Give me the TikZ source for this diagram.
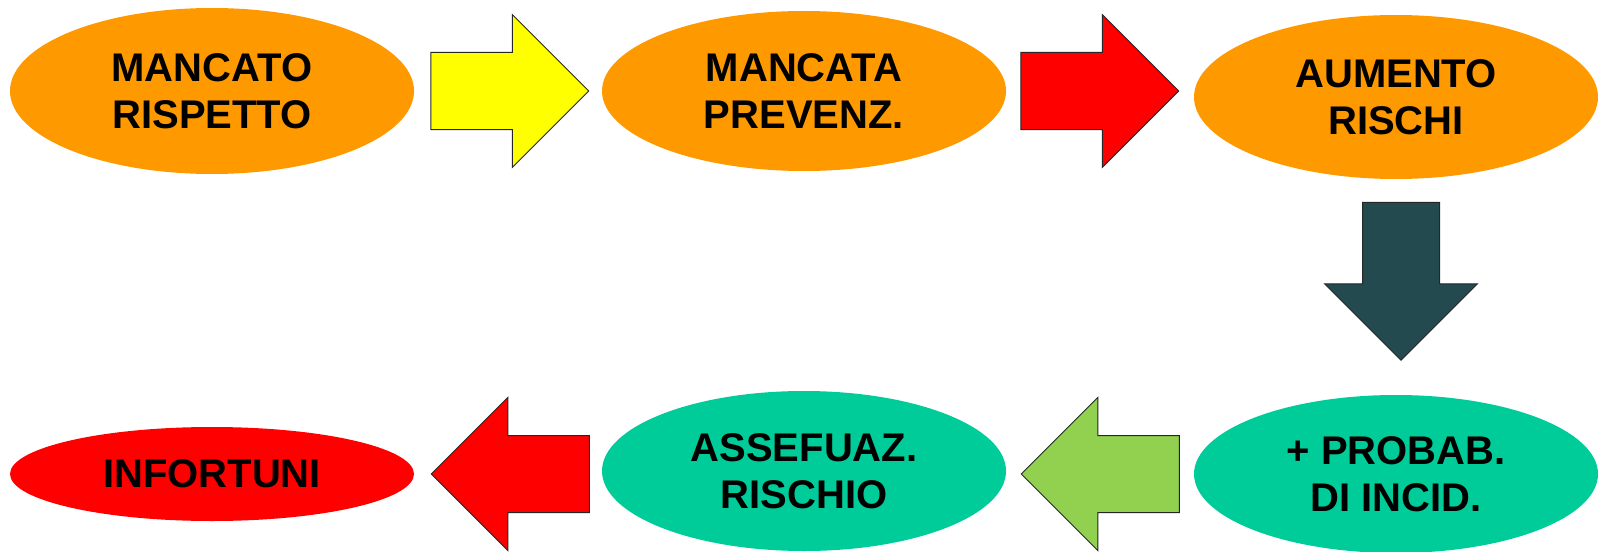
\documentclass[tikz,border=0pt]{standalone}
\usepackage{fontspec}
\setmainfont{Liberation Sans}
\usetikzlibrary{shapes.geometric,shapes.arrows}
\definecolor{arancio}{HTML}{FF9900}
\definecolor{acqua}{HTML}{00CC99}
\definecolor{giallo}{HTML}{FFFF00}
\definecolor{rosso}{HTML}{FF0000}
\definecolor{ardesia}{HTML}{234A4F}
\definecolor{verde}{HTML}{92D050}
\begin{document}
\begin{tikzpicture}[x=0.5pt,y=-0.5pt]
		\tikzset{bolla/.style={ellipse, inner sep=0pt, minimum width=202pt, minimum height=82pt, align=center, font=\fontsize{20}{23.5}\selectfont\bfseries},
		         freccia/.style={single arrow, draw=black!85, line width=0.5pt, inner xsep=0pt, inner ysep=19pt, minimum width=76pt, minimum height=79pt, single arrow head extend=19pt, single arrow tip angle=90}}
		\useasboundingbox (0,0) rectangle (1598,551);

		\node[bolla, fill=arancio, minimum height=83pt] (MR) at (212,91) {MANCATO\\RISPETTO};
		\node[bolla, fill=arancio, minimum height=80pt] (MP) at (804,91) {MANCATA\\PREVENZ.};
		\node[bolla, fill=arancio] (AR) at (1396,97) {AUMENTO\\RISCHI};
		\node[bolla, fill=acqua, minimum height=79pt] (PI) at (1396,474) {+ PROBAB.\\DI INCID.};
		\node[bolla, fill=acqua, minimum height=80pt] (AS) at (804,471) {ASSEFUAZ.\\RISCHIO};
		\node[bolla, fill=rosso, minimum height=47pt] (IN) at (212,474) {INFORTUNI};

    \node[freccia, fill=giallo] (F1) at (490.5,91) {};
    \node[freccia, fill=rosso] (F2) at (1080.5,91) {};
    \node[freccia, fill=ardesia, rotate=-90] (F3) at (1401,262) {};
    \node[freccia, fill=verde, rotate=180] (F4) at (1119.5,474) {};
    \node[freccia, fill=rosso, rotate=180] (F5) at (529.5,474) {};

		\end{tikzpicture}
\end{document}
